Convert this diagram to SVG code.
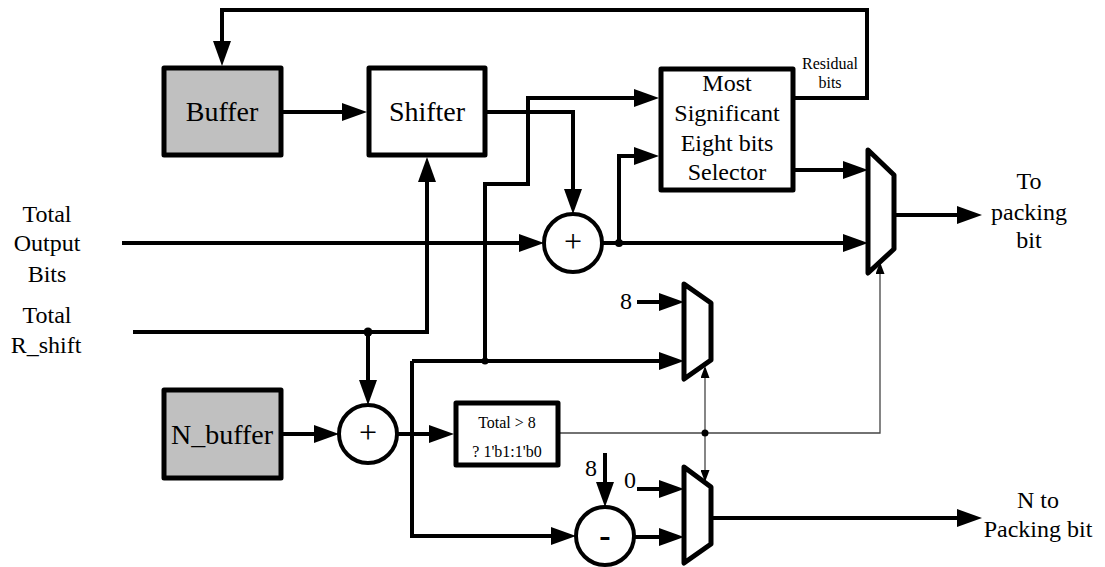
<svg xmlns="http://www.w3.org/2000/svg" width="1105" height="567" viewBox="0 0 1105 567">
<style>
text{font-family:"Liberation Serif",Tinos,"Times New Roman",Times,"Noto Serif","DejaVu Serif",FreeSerif,serif;fill:#000;text-anchor:middle}
.t24{font-size:24px}
.t28{font-size:28px}
.t16{font-size:16px}
.box{stroke:#000;stroke-width:5;stroke-linejoin:round}
.gray{fill:#c0c0c0}
.white{fill:#fff}
.w{fill:none;stroke:#000;stroke-width:4}
.thin{fill:none;stroke:#444;stroke-width:1.3}
.circ{fill:#fff;stroke:#000;stroke-width:4}
.mux{fill:#fff;stroke:#000;stroke-width:5;stroke-linejoin:round}
</style>
<defs>
<marker id="a" markerUnits="userSpaceOnUse" markerWidth="25" markerHeight="18" refX="15" refY="9" orient="auto">
<path d="M0,0 L25,9 L0,18 z" fill="#000"/>
</marker>
<marker id="s" markerUnits="userSpaceOnUse" markerWidth="12" markerHeight="9" refX="10" refY="4.5" orient="auto">
<path d="M0,0 L12,4.5 L0,9 z" fill="#000"/>
</marker>
</defs>
<rect width="1105" height="567" fill="#fff"/>

<g id="connectors">
<path class="w" d="M283,112 H357" marker-end="url(#a)"/>
<path class="w" d="M795,98 H867 V10 H222 V56" marker-end="url(#a)"/>
<path class="w" d="M487,112 H573 V204" marker-end="url(#a)"/>
<path class="w" d="M122,243 H534" marker-end="url(#a)"/>
<path class="w" d="M602,243 H858" marker-end="url(#a)"/>
<path class="w" d="M619,243 V156 H649" marker-end="url(#a)"/>
<path class="w" d="M795,170 H858" marker-end="url(#a)"/>
<path class="w" d="M894,215 H972" marker-end="url(#a)"/>
<path class="w" d="M133,332 H427 V167" marker-end="url(#a)"/>
<path class="w" d="M368,332 V395" marker-end="url(#a)"/>
<path class="w" d="M283,434 H329" marker-end="url(#a)"/>
<path class="w" d="M397,434 H444" marker-end="url(#a)"/>
<path class="w" d="M412,361 H674" marker-end="url(#a)"/>
<path class="w" d="M412,361 V536 H566" marker-end="url(#a)"/>
<path class="w" d="M485,361 V184 H528 V98 H649" marker-end="url(#a)"/>
<path class="w" d="M637,302 H674" marker-end="url(#a)"/>
<path class="w" d="M605,453 V497" marker-end="url(#a)"/>
<path class="w" d="M637,489 H674" marker-end="url(#a)"/>
<path class="w" d="M634,537 H674" marker-end="url(#a)"/>
<path class="w" d="M711,518 H972" marker-end="url(#a)"/>
<path class="thin" d="M560,433 H880 V264" marker-end="url(#s)"/>
<path class="thin" d="M705,433 V368" marker-end="url(#s)"/>
<path class="thin" d="M705,433 V480" marker-end="url(#s)"/>
<circle cx="619" cy="243" r="4" fill="#000"/>
<circle cx="368" cy="332" r="4.5" fill="#000"/>
<circle cx="485" cy="361" r="3.5" fill="#000"/>
<circle cx="705" cy="433" r="3.5" fill="#000"/>
</g>

<g id="buffer">
<rect class="box gray" x="164" y="68" width="117" height="87"/>
<text class="t28" x="222" y="121">Buffer</text>
</g>
<g id="shifter">
<rect class="box white" x="369" y="68" width="116" height="87"/>
<text class="t28" x="427" y="121">Shifter</text>
</g>
<g id="selector">
<rect class="box white" x="661" y="69" width="132" height="121"/>
<text class="t24" x="727" y="91">Most</text>
<text class="t24" x="727" y="121">Significant</text>
<text class="t24" x="727" y="151">Eight bits</text>
<text class="t24" x="727" y="180">Selector</text>
</g>
<g id="residual-label">
<text class="t16" x="830" y="69">Residual</text>
<text class="t16" x="830" y="88">bits</text>
</g>
<g id="adder1">
<circle class="circ" cx="573" cy="243" r="29"/>
<text x="573" y="252" style="font-size:32px">+</text>
</g>
<g id="mux1">
<polygon class="mux" points="868,150 894,175 894,249 868,273"/>
</g>
<g id="out1-label">
<text class="t24" x="1029" y="189">To</text>
<text class="t24" x="1029" y="220">packing</text>
<text class="t24" x="1029" y="248">bit</text>
</g>
<g id="in-total-output">
<text class="t24" x="47" y="222">Total</text>
<text class="t24" x="47" y="251">Output</text>
<text class="t24" x="47" y="282">Bits</text>
</g>
<g id="in-rshift">
<text class="t24" x="47" y="323">Total</text>
<text class="t24" x="46" y="353">R_shift</text>
</g>
<g id="nbuffer">
<rect class="box gray" x="164" y="390" width="117" height="88"/>
<text class="t28" x="222" y="444">N_buffer</text>
</g>
<g id="adder2">
<circle class="circ" cx="368" cy="434" r="29"/>
<text x="368" y="443" style="font-size:32px">+</text>
</g>
<g id="compare">
<rect class="box white" x="456" y="403" width="102" height="62"/>
<text class="t16" x="507" y="428">Total &gt; 8</text>
<text class="t16" x="507" y="457">? 1'b1:1'b0</text>
</g>
<g id="mux2">
<polygon class="mux" points="684,284 711,303 711,360 684,379"/>
<text class="t24" x="626" y="309">8</text>
</g>
<g id="subtract">
<circle class="circ" cx="605" cy="536" r="29"/>
<text x="605" y="547" style="font-size:34px;font-weight:bold">-</text>
<text class="t24" x="591" y="476">8</text>
</g>
<g id="mux3">
<polygon class="mux" points="684,467 711,487 711,544 684,563"/>
<text class="t24" x="630" y="488">0</text>
</g>
<g id="out2-label">
<text class="t24" x="1038" y="508">N to</text>
<text class="t24" x="1038" y="537">Packing bit</text>
</g>
</svg>
